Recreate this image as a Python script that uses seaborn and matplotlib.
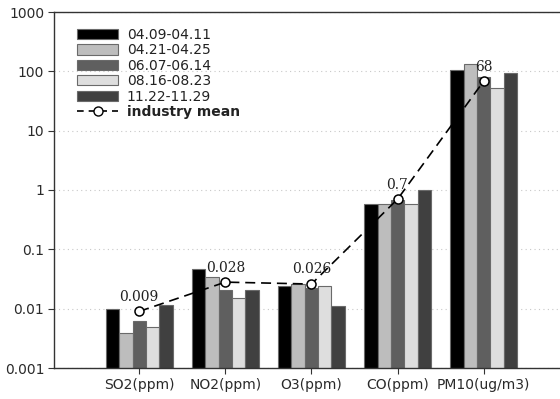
import numpy as np
import pandas as pd
import matplotlib
matplotlib.use("Agg")
import matplotlib.pyplot as plt
from matplotlib.ticker import FixedLocator, FuncFormatter, NullLocator
from matplotlib.lines import Line2D
from matplotlib.patches import Patch
import seaborn as sns

# Pollutants and measurement periods
pollutants = ["SO2(ppm)", "NO2(ppm)", "O3(ppm)", "CO(ppm)", "PM10(ug/m3)"]
periods = ["04.09-04.11", "04.21-04.25", "06.07-06.14", "08.16-08.23", "11.22-11.29"]

# Measured concentrations per period (one value per pollutant)
p_0409 = [0.010, 0.046, 0.024, 0.58, 105]
p_0421 = [0.0039, 0.034, 0.026, 0.58, 133]
p_0607 = [0.0061, 0.021, 0.022, 0.68, 79]
p_0816 = [0.0050, 0.0153, 0.024, 0.58, 52.5]
p_1122 = [0.0114, 0.021, 0.011, 1.0, 93]

# Industry mean per pollutant and its printed label
industry_mean = [0.009, 0.028, 0.026, 0.7, 68]
mean_labels = ["0.009", "0.028", "0.026", "0.7", "68"]

bar_colors = ["#000000", "#bdbdbd", "#5f5f5f", "#dedede", "#404040"]

series = [p_0409, p_0421, p_0607, p_0816, p_1122]
df = pd.DataFrame(
    [(pol, per, v) for per, vals in zip(periods, series) for pol, v in zip(pollutants, vals)],
    columns=["pollutant", "period", "value"],
)

sns.set_style("white")
plt.rcParams["font.family"] = ["DejaVu Sans"]

fig = plt.figure(figsize=(5.6, 3.99), dpi=100)
ax = fig.add_axes([54 / 560, 1 - 368 / 399, 1 - 54 / 560 + 0.002, (368 - 12) / 399])

sns.barplot(
    data=df, x="pollutant", y="value", hue="period",
    order=pollutants, hue_order=periods, palette=bar_colors,
    width=0.775, gap=0.0, edgecolor="#6a6a6a", linewidth=0.8,
    legend=False, ax=ax, zorder=2,
)

ax.set_yscale("log")
ax.set_ylim(0.001, 1000)
ax.set_xlim(-0.99, 4.9)

xpos = np.arange(len(pollutants))
ax.plot(xpos, industry_mean, color="black", linestyle=(0, (6, 3.5)), linewidth=1.2,
        marker="o", markersize=6.5, markerfacecolor="white", markeredgecolor="black",
        markeredgewidth=1.1, zorder=4)

for x, m, lab in zip(xpos, industry_mean, mean_labels):
    ax.annotate(lab, (x, m), xytext=(0, 10.5), textcoords="offset points",
                ha="center", va="center", fontsize=10, family="DejaVu Serif",
                color="#222222", zorder=5)

# Axes styling
ax.yaxis.set_major_locator(FixedLocator([0.001, 0.01, 0.1, 1, 10, 100, 1000]))
ax.yaxis.set_minor_locator(NullLocator())
ax.yaxis.set_major_formatter(FuncFormatter(lambda v, p: f"{v:g}"))
ax.tick_params(axis="both", which="major", direction="out", length=4, width=0.8,
               color="#333333", labelsize=10, labelcolor="#2a2a2a", pad=3,
               left=True, bottom=True)
ax.grid(axis="y", linestyle=(0, (1, 3)), color="#c8c8c8", linewidth=0.8, zorder=0)
ax.set_axisbelow(True)
ax.set_xlabel("")
ax.set_ylabel("")
for side in ["left", "top", "bottom"]:
    ax.spines[side].set_visible(True)
    ax.spines[side].set_color("#333333")
    ax.spines[side].set_linewidth(1.0)
ax.spines["right"].set_visible(False)

handles = [Patch(facecolor=c, edgecolor="#6a6a6a", linewidth=0.8) for c in bar_colors]
handles.append(Line2D([0], [0], color="black", linestyle=(0, (4, 3)), linewidth=1.2,
                      marker="o", markersize=6.5, markerfacecolor="white",
                      markeredgecolor="black"))
leg = ax.legend(handles, periods + ["industry mean"], loc="upper left",
                bbox_to_anchor=(0.045, 0.955), frameon=False, fontsize=10,
                handlelength=3.0, handleheight=0.75, handletextpad=0.6,
                labelspacing=0.1, borderpad=0, borderaxespad=0, numpoints=1)
for t in leg.get_texts():
    t.set_color("#222222")
leg.get_texts()[-1].set_fontweight("bold")

fig.savefig("out.png", dpi=100)
